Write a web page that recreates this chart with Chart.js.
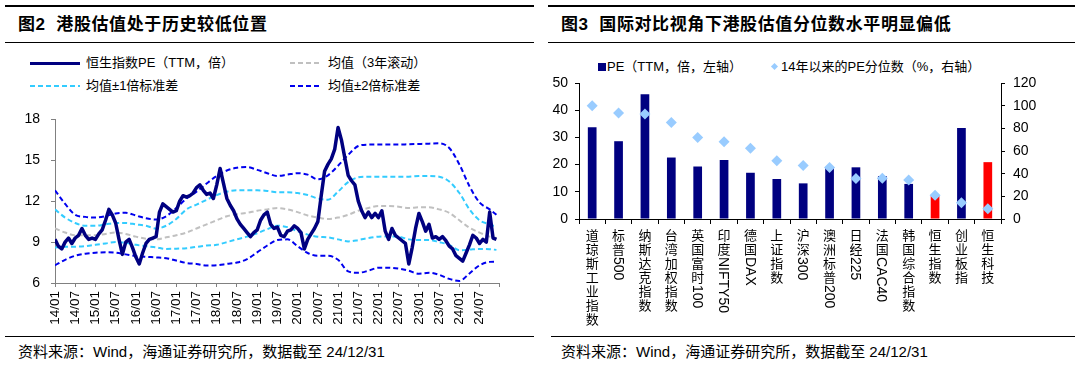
<!DOCTYPE html>
<html>
<head>
<meta charset="utf-8">
<script src="https://cdn.jsdelivr.net/npm/chart.js@4.4.1/dist/chart.umd.min.js"></script>
<style>
  body { margin: 0; width: 1080px; height: 372px; background: #fff; position: relative; overflow: hidden;
         font-family: "Liberation Sans", "Noto Sans CJK SC", sans-serif; color: #000; }
  .rule { position: absolute; background: #000; }
  .title { position: absolute; font-size: 17px; font-weight: bold; line-height: 20px; letter-spacing: 0.6px; white-space: nowrap; }
  .source { position: absolute; font-size: 15px; line-height: 18px; white-space: nowrap; }
  .lg { position: absolute; font-size: 13px; line-height: 16px; white-space: nowrap; }
  .smp { position: absolute; height: 2px; }
  canvas { position: absolute; }
</style>
</head>
<body>
<!-- left panel frame -->
<div class="rule" style="left:5px;top:5px;width:529px;height:2px"></div>
<div class="title" style="left:18px;top:15px">图2&nbsp;&nbsp;港股估值处于历史较低位置</div>
<div class="rule" style="left:5px;top:42px;width:529px;height:1px"></div>
<div class="rule" style="left:5px;top:336px;width:529px;height:1px"></div>
<div class="source" style="left:18px;top:343px">资料来源：Wind，海通证券研究所，数据截至 24/12/31</div>

<!-- left legend -->
<div class="smp" style="left:30px;top:62px;width:50px;height:3px;background:#000080"></div>
<div class="lg" style="left:86px;top:55px">恒生指数PE（TTM，倍）</div>
<div class="smp" style="left:290px;top:62px;width:32px;background:repeating-linear-gradient(90deg,#c0c0c0 0 5px,transparent 5px 8px)"></div>
<div class="lg" style="left:328px;top:55px">均值（3年滚动）</div>
<div class="smp" style="left:30px;top:85px;width:50px;background:repeating-linear-gradient(90deg,#33ccff 0 5px,transparent 5px 8px)"></div>
<div class="lg" style="left:86px;top:78px">均值±1倍标准差</div>
<div class="smp" style="left:290px;top:85px;width:32px;background:repeating-linear-gradient(90deg,#0000ee 0 5px,transparent 5px 8px)"></div>
<div class="lg" style="left:328px;top:78px">均值±2倍标准差</div>

<canvas id="peChart" width="520" height="235" style="left:0;top:100px"></canvas>

<!-- right panel frame -->
<div class="rule" style="left:548px;top:5px;width:527px;height:2px"></div>
<div class="title" style="left:561px;top:15px">图3&nbsp;&nbsp;国际对比视角下港股估值分位数水平明显偏低</div>
<div class="rule" style="left:548px;top:42px;width:527px;height:1px"></div>
<div class="rule" style="left:551px;top:336px;width:524px;height:1px"></div>
<div class="source" style="left:561px;top:343px">资料来源：Wind，海通证券研究所，数据截至 24/12/31</div>

<!-- right legend -->
<div class="smp" style="left:598px;top:63px;width:8px;height:8px;background:#000080"></div>
<div class="lg" style="left:607px;top:59px">PE（TTM，倍，左轴）</div>
<div class="smp" style="left:772px;top:64px;width:5px;height:5px;background:#99ccff;transform:rotate(45deg)"></div>
<div class="lg" style="left:781px;top:59px">14年以来的PE分位数（%，右轴）</div>

<canvas id="cmpChart" width="540" height="275" style="left:540px;top:60px"></canvas>

<script>
// ---- 图2：恒生指数PE（月度，2014/01 起） ----
const xTickLabels = ['14/01', '14/07', '15/01', '15/07', '16/01', '16/07', '17/01', '17/07', '18/01', '18/07',
    '19/01', '19/07', '20/01', '20/07', '21/01', '21/07', '22/01', '22/07', '23/01', '23/07', '24/01', '24/07'];

const peValues = [
    9.2, 8.7, 8.5, 9.0, 9.3, 8.9, 9.3, 9.5, 10.0, 9.5, 9.2, 9.3,
    9.2, 9.6, 9.9, 10.6, 11.4, 11.0, 10.4, 9.2, 8.1, 9.0, 9.2, 8.6,
    7.9, 7.4, 8.2, 8.9, 9.2, 9.3, 9.4, 11.2, 11.8, 11.6, 11.4, 11.2,
    11.3, 12.0, 12.4, 12.3, 12.4, 12.6, 13.0, 13.2, 12.8, 12.5, 12.6, 12.2,
    13.2, 14.4, 13.3, 12.2, 11.7, 11.3, 10.7, 10.3, 10.0, 9.7, 9.4, 9.7,
    9.9, 10.6, 11.0, 11.2, 10.3, 10.0, 10.1, 9.5, 9.4, 9.8, 9.9, 10.2,
    10.0, 9.7, 8.5, 9.2, 9.6, 10.0, 10.5, 12.4, 14.2, 14.7, 15.1, 15.8,
    17.4, 16.5, 15.2, 13.9, 13.5, 13.2, 12.0, 11.3, 10.8, 11.2, 10.8, 11.1,
    10.8, 11.3, 9.8, 9.2, 10.0, 9.5, 9.3, 9.1, 8.9, 7.4, 8.6, 10.0,
    11.1, 10.5, 9.8, 10.3, 9.3, 9.4, 9.2, 9.4, 9.1, 8.7, 8.5, 8.0,
    7.8, 7.6, 8.2, 8.8, 9.5, 9.3, 8.9, 9.2, 9.0, 11.2, 9.3, 9.2
];

// 滚动均值及标准差带（按季度读取）
const bandMonths = [0, 3, 6, 9, 12, 15, 18, 21, 24, 27, 30, 33, 36, 39, 42, 45, 48, 51, 54, 57, 60, 63,
    66, 69, 72, 75, 78, 81, 84, 87, 90, 93, 96, 99, 102, 105, 108, 111, 114, 117, 120, 123, 126, 129, 131];
const meanValues = [10.0, 9.7, 9.5, 9.5, 9.5, 9.6, 9.7, 9.6, 9.4, 9.25, 9.2, 9.35, 9.5, 9.7, 10.0, 10.3,
    10.6, 10.9, 11.05, 11.15, 11.3, 11.4, 11.5, 11.4, 11.2, 10.95, 10.8, 10.7, 10.8, 11.0, 11.3, 11.5,
    11.65, 11.65, 11.6, 11.5, 11.55, 11.55, 11.4, 11.15, 10.6, 10.05, 9.7, 9.4, 9.3];
const plus1Values = [11.4, 10.8, 10.4, 10.2, 10.2, 10.3, 10.4, 10.4, 10.3, 10.2, 10.0, 10.2, 10.7, 11.4,
    11.75, 12.1, 12.45, 12.7, 12.8, 12.8, 12.8, 12.75, 12.65, 12.65, 12.6, 12.45, 12.2, 12.1, 12.7, 13.4,
    13.75, 13.8, 13.8, 13.8, 13.8, 13.8, 13.85, 13.85, 13.8, 13.45, 12.6, 11.4, 10.6, 10.3, 10.1];
const minus1Values = [8.6, 8.65, 8.66, 8.7, 8.8, 8.9, 9.0, 8.95, 8.8, 8.7, 8.62, 8.5, 8.52, 8.55, 8.65,
    8.75, 8.8, 9.0, 9.2, 9.4, 9.65, 9.95, 10.2, 10.1, 9.8, 9.55, 9.4, 9.35, 9.2, 9.05, 9.15, 9.3, 9.4,
    9.42, 9.4, 9.2, 9.15, 9.15, 9.0, 8.8, 8.4, 8.45, 8.5, 8.48, 8.43];
const plus2Values = [12.8, 11.8, 11.0, 10.85, 10.8, 10.9, 11.1, 11.15, 10.95, 10.75, 10.65, 10.9, 11.5,
    12.2, 12.7, 13.3, 13.85, 14.25, 14.45, 14.5, 14.3, 14.05, 13.85, 13.95, 14.05, 13.95, 13.6, 13.9,
    14.6, 15.4, 16.05, 16.15, 16.15, 16.15, 16.15, 16.18, 16.2, 16.22, 16.25, 15.9, 14.7, 13.1, 11.9,
    11.4, 11.0];
const minus2Values = [7.3, 7.7, 8.0, 8.15, 8.22, 8.25, 8.22, 8.1, 7.98, 7.92, 7.88, 7.82, 7.65, 7.47,
    7.4, 7.28, 7.3, 7.4, 7.5, 7.75, 8.25, 8.75, 9.15, 9.2, 8.7, 8.2, 8.0, 8.0, 7.7, 6.85, 6.75, 6.9,
    7.12, 7.12, 7.05, 6.9, 6.68, 6.75, 6.6, 6.3, 6.15, 6.7, 7.3, 7.55, 7.57];

// ---- 图3：各指数PE与分位数 ----
const categories = ['道琼斯工业指数', '标普500', '纳斯达克指数', '台湾加权指数', '英国富时100', '印度NIFTY50',
    '德国DAX', '上证指数', '沪深300', '澳洲标普200', '日经225', '法国CAC40', '韩国综合指数', '恒生指数', '创业板指', '恒生科技'];
const peTTM = [33.7, 28.6, 45.9, 22.6, 19.3, 21.7, 17.0, 14.7, 13.1, 18.9, 19.0, 15.8, 12.9, 8.5, 33.5, 20.9];
const pePercentile = [100, 93.5, 92.6, 85.2, 71.9, 68.1, 62.5, 51.3, 47.2, 45.4, 35.7, 36.0, 34.5, 20.9, 14.4, 9.1];
const highlighted = ['恒生指数', '恒生科技'];

const latin = '"Liberation Sans", Arial, sans-serif';

const bandSet = (label, values, color) => ({
    label: label,
    data: bandMonths.map((m, i) => ({ x: m, y: values[i] })),
    borderColor: color,
    borderWidth: 2,
    borderDash: [5, 3],
    pointRadius: 0,
    cubicInterpolationMode: 'monotone',
    fill: false
});

new Chart(document.getElementById('peChart'), {
    type: 'line',
    data: {
        datasets: [
            {
                label: '恒生指数PE（TTM，倍）',
                data: peValues.map((v, i) => ({ x: i, y: v })),
                borderColor: '#000080',
                borderWidth: 3.5,
                pointRadius: 0,
                tension: 0,
                borderJoinStyle: 'round'
            },
            bandSet('均值（3年滚动）', meanValues, '#c0c0c0'),
            bandSet('均值+1倍标准差', plus1Values, '#33ccff'),
            bandSet('均值-1倍标准差', minus1Values, '#33ccff'),
            bandSet('均值+2倍标准差', plus2Values, '#0000ee'),
            bandSet('均值-2倍标准差', minus2Values, '#0000ee')
        ]
    },
    options: {
        responsive: false,
        animation: false,
        layout: { padding: { top: 7, right: 19, left: 0, bottom: 0 } },
        plugins: { legend: { display: false }, tooltip: { enabled: false } },
        scales: {
            x: {
                type: 'linear', min: 0, max: 132,
                ticks: {
                    stepSize: 6, autoSkip: false, minRotation: 90, maxRotation: 90, padding: 4,
                    color: '#000', font: { size: 13.5, family: latin },
                    callback: v => xTickLabels[v / 6] || ''
                },
                grid: { drawOnChartArea: false, tickLength: 4, color: '#808080' },
                border: { color: '#808080' },
                afterFit: s => { s.height = 52; }
            },
            y: {
                min: 6, max: 18,
                ticks: { stepSize: 3, padding: 11, color: '#000', font: { size: 14, family: latin } },
                grid: { drawOnChartArea: false, tickLength: 4, color: '#808080' },
                border: { color: '#808080' },
                afterFit: s => { s.width = 55; }
            }
        }
    }
});

// 竖排类目标签：汉字直排，字母数字顺时针旋转
const verticalLabels = {
    id: 'verticalLabels',
    afterDraw(chart) {
        const ctx = chart.ctx;
        const xs = chart.scales.x;
        ctx.save();
        ctx.fillStyle = '#000';
        categories.forEach((name, i) => {
            const cx = xs.getPixelForValue(i);
            let y = xs.top + 10;
            const runs = name.match(/[A-Za-z0-9]+|[^A-Za-z0-9]/g);
            runs.forEach(r => {
                if (/^[A-Za-z0-9]+$/.test(r)) {
                    ctx.font = '14px ' + latin;
                    const w = ctx.measureText(r).width;
                    ctx.save();
                    ctx.translate(cx, y);
                    ctx.rotate(Math.PI / 2);
                    ctx.textAlign = 'left';
                    ctx.textBaseline = 'middle';
                    ctx.fillText(r, 0, 1);
                    ctx.restore();
                    y += w + 2;
                } else {
                    ctx.font = '13px "Noto Sans CJK SC"';
                    ctx.textAlign = 'center';
                    ctx.textBaseline = 'top';
                    ctx.fillText(r, cx, y);
                    y += 14;
                }
            });
        });
        ctx.restore();
    }
};

new Chart(document.getElementById('cmpChart'), {
    type: 'bar',
    data: {
        labels: categories,
        datasets: [
            {
                type: 'line',
                label: '14年以来的PE分位数（%，右轴）',
                data: pePercentile,
                yAxisID: 'y1',
                showLine: false,
                pointStyle: 'rectRot',
                pointRadius: 5.5,
                pointBackgroundColor: '#99ccff',
                pointBorderWidth: 0,
                order: 0
            },
            {
                label: 'PE（TTM，倍，左轴）',
                data: peTTM,
                yAxisID: 'y',
                backgroundColor: categories.map(c => highlighted.includes(c) ? '#ff0000' : '#000080'),
                categoryPercentage: 1,
                barPercentage: 0.33,
                order: 1
            }
        ]
    },
    options: {
        responsive: false,
        animation: false,
        layout: { padding: { top: 23, right: 0, left: 0, bottom: 0 } },
        plugins: { legend: { display: false }, tooltip: { enabled: false } },
        scales: {
            x: {
                ticks: { display: false },
                grid: { drawOnChartArea: false, tickLength: 5, color: '#000', offset: true },
                border: { color: '#000' },
                afterFit: s => { s.height = 116; }
            },
            y: {
                position: 'left', min: 0, max: 50,
                ticks: { stepSize: 10, padding: 7, color: '#000', font: { size: 14, family: latin } },
                grid: { drawOnChartArea: false, tickLength: 4, color: '#000' },
                border: { color: '#000' },
                afterFit: s => { s.width = 39; }
            },
            y1: {
                position: 'right', min: 0, max: 120,
                ticks: { stepSize: 20, padding: 8, color: '#000', font: { size: 14, family: latin } },
                grid: { drawOnChartArea: false, tickLength: 4, color: '#000' },
                border: { color: '#000' },
                afterFit: s => { s.width = 79; }
            }
        }
    },
    plugins: [verticalLabels]
});
</script>
</body>
</html>
